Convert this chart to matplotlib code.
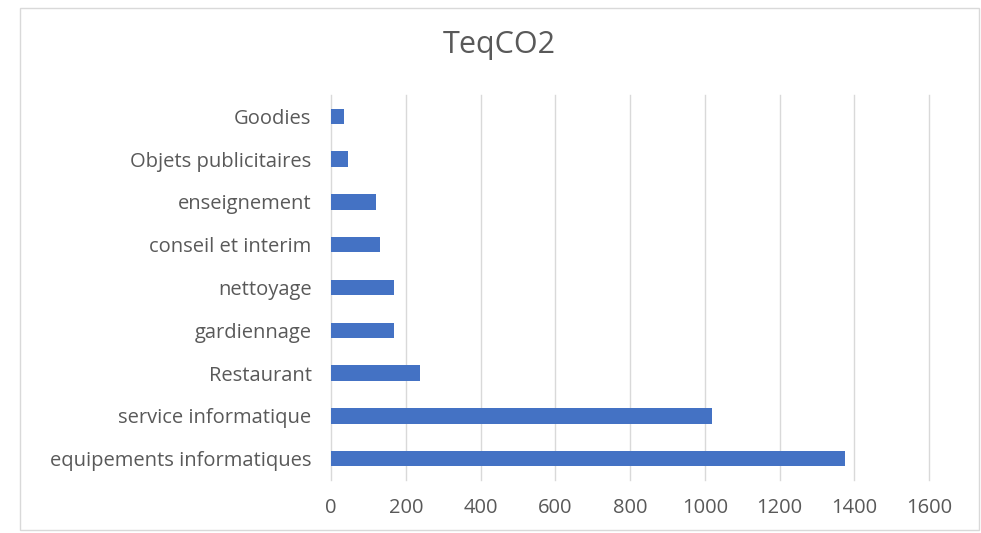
import matplotlib.pyplot as plt
from matplotlib.patches import Rectangle

categories = ["equipements informatiques", "service informatique", "Restaurant",
              "gardiennage", "nettoyage", "conseil et interim", "enseignement",
              "Objets publicitaires", "Goodies"]
values = [1375, 1020, 238, 168, 168, 131, 120, 45, 34]
xticks = [0, 200, 400, 600, 800, 1000, 1200, 1400, 1600]

plt.rcParams['font.family'] = ['Open Sans', 'DejaVu Sans']
grey = '#595959'

fig = plt.figure(figsize=(9.81, 5.33), dpi=100)
fig.patches.append(Rectangle((20 / 981, 3 / 533), 959 / 981, 522 / 533,
                             transform=fig.transFigure, fill=False,
                             edgecolor='#d9d9d9', linewidth=1))

ax = fig.add_axes([331 / 981, 1 - 480 / 533, 598 / 981, 385 / 533])
ax.barh(range(len(categories)), values, height=0.36, color='#4472c4', zorder=3)
ax.set_xlim(0, 1600)
ax.set_ylim(-0.5, len(categories) - 0.5)
ax.set_xticks(xticks)
ax.set_yticks(range(len(categories)))
ax.set_yticklabels(categories, fontsize=14.8)
ax.grid(axis='x', color='#d9d9d9', linewidth=1, zorder=0)
for gl in ax.get_xgridlines():
    gl.set_clip_on(False)
for s in ax.spines.values():
    s.set_visible(False)
ax.tick_params(length=0, colors=grey, labelsize=14.5)
ax.tick_params(axis='x', pad=13)
ax.tick_params(axis='y', pad=14)

fig.text(499 / 981, 1 - 45 / 533, "TeqCO2", ha='center', va='center',
         fontsize=22, color=grey)

fig.savefig("out.png", dpi=100)
